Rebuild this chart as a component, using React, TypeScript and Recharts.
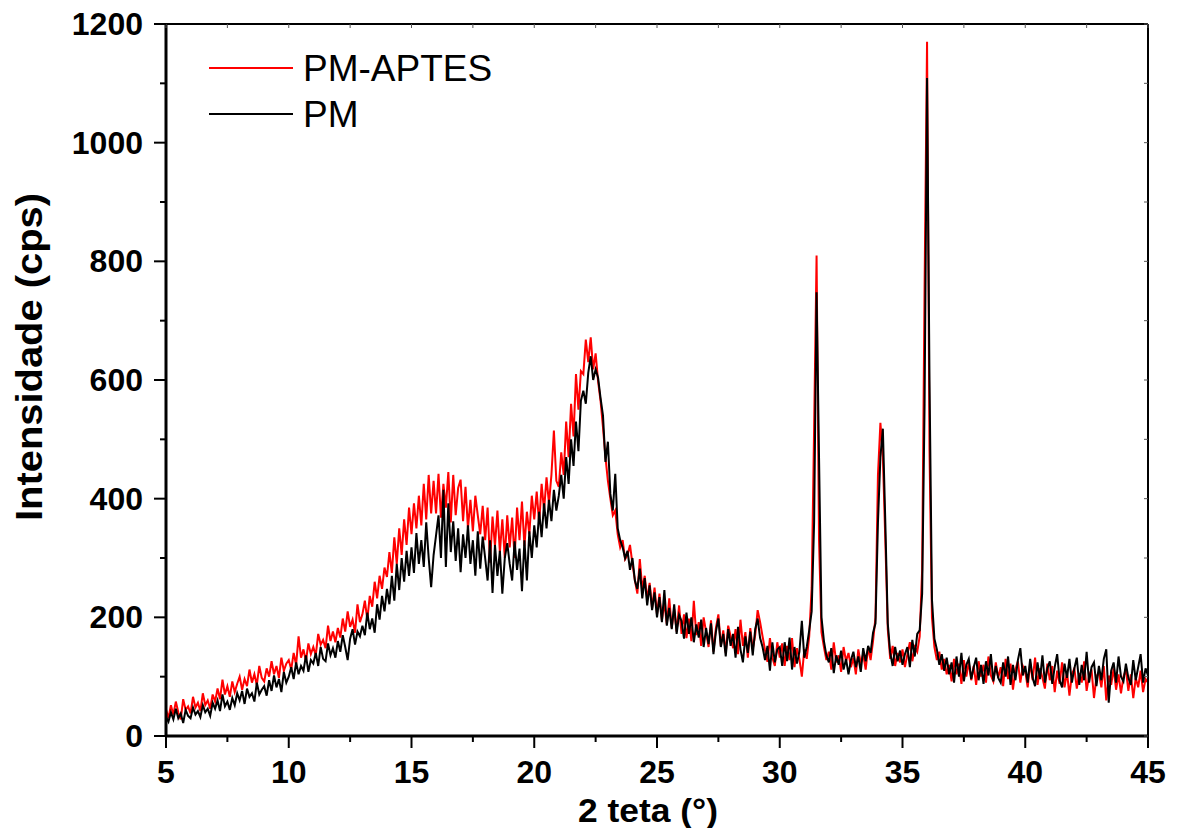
import React from 'react';
import { LineChart, Line, XAxis, YAxis, Customized } from 'recharts';

// 2θ sampling grid
const THETA_START = 5;
const THETA_STEP = 0.1;

// PM-APTES intensity (cps), one row per degree (x.0 … x.9)
const pmAptes = [
  45, 30, 52, 36, 58, 40, 28, 62, 44, 50,
  38, 66, 48, 56, 42, 72, 52, 60, 46, 70,
  58, 80, 62, 95, 70, 84, 66, 92, 74, 88,
  100, 78, 96, 84, 112, 90, 104, 86, 118, 98,
  92, 114, 100, 126, 104, 118, 98, 132, 110, 122,
  128, 112, 140, 120, 168, 132, 146, 126, 156, 138,
  150, 136, 172, 154, 162, 148, 186, 160, 176, 158,
  182, 166, 198, 176, 210, 184, 196, 174, 222, 192,
  205, 228, 196, 236, 218, 260, 232, 270, 248, 284,
  268, 310, 275, 335, 290, 350, 305, 365, 322, 385,
  340, 392, 350, 405, 355, 425, 365, 440, 375, 430,
  375, 442, 368, 425, 385, 445, 360, 440, 372, 418,
  432, 362, 420, 350, 398, 345, 405, 372, 340, 388,
  330, 385, 292, 370, 320, 380, 310, 365, 300, 372,
  318, 368, 300, 385, 330, 395, 320, 378, 340, 405,
  365, 412, 358, 425, 380, 436, 392, 440, 515, 430,
  420, 478, 440, 530, 470, 560, 505, 610, 550, 615,
  610, 668, 630, 672, 618, 645, 598, 565, 520, 470,
  430, 400, 372, 380, 340, 318, 330, 298, 305, 322,
  290, 262, 240, 298, 248, 270, 230, 258, 215, 250,
  205, 240, 195, 225, 188, 232, 182, 214, 176, 220,
  172, 205, 165, 198, 160, 228, 170, 192, 152, 200,
  175, 150, 195, 142, 182, 205, 152, 178, 140, 186,
  168, 148, 180, 138, 196, 152, 175, 132, 182, 146,
  170, 212, 192, 168, 145, 125, 165, 132, 118, 158,
  132, 156, 118, 152, 128, 165, 116, 148, 130, 100,
  146, 130, 168, 250, 520, 810, 330, 175, 150, 128,
  142, 112, 158, 124, 136, 108, 150, 126, 140, 116,
  132, 104, 146, 122, 138, 112, 150, 128, 160, 200,
  440, 528, 470, 330, 180, 130, 152, 118, 140, 124,
  146, 116, 138, 158, 126, 150, 142, 168, 280, 760,
  1170, 480, 200, 150, 128, 142, 112, 130, 104, 120,
  92, 130, 104, 122, 88, 128, 100, 124, 94, 118,
  86, 126, 100, 120, 90, 134, 102, 92, 124, 98,
  116, 84, 130, 96, 122, 78, 112, 126, 90, 118,
  108, 82, 124, 94, 132, 86, 114, 98, 80, 122,
  94, 118, 74, 110, 88, 124, 82, 108, 68, 104,
  114, 80, 106, 90, 126, 76, 102, 112, 64, 100,
  108, 82, 118, 60, 102, 86, 114, 78, 104, 72,
  100, 112, 76, 104, 64, 98, 82, 110, 74, 96,
  90,
];

// PM intensity (cps), one row per degree
const pm = [
  32, 24, 40, 28, 46, 30, 38, 22, 44, 34,
  30, 48, 36, 42, 32, 52, 40, 46, 34, 56,
  46, 60, 42, 70, 50, 58, 44, 64, 52, 72,
  60, 76, 54, 80, 66, 72, 58, 90, 70, 78,
  84, 68, 94, 76, 102, 82, 96, 74, 108, 90,
  100, 116, 96, 124, 104, 118, 110, 136, 108, 128,
  122, 140, 118, 150, 130, 126, 156, 136, 148, 132,
  160, 142, 170, 150, 128, 164, 180, 154, 176, 168,
  186, 170, 208, 180, 198, 174, 222, 196, 236, 210,
  248, 222, 270, 228, 290, 246, 300, 260, 312, 270,
  318, 275, 342, 290, 330, 285, 360, 300, 251, 305,
  338, 372, 300, 415, 285, 392, 310, 362, 295, 350,
  276, 340, 300, 355, 290, 330, 270, 345, 282, 336,
  300, 262, 330, 241, 322, 270, 312, 240, 300, 325,
  290, 262, 328, 280, 316, 244, 330, 262, 345, 300,
  355, 318, 378, 335, 392, 350, 398, 362, 415, 380,
  405, 440, 400, 470, 425, 500, 455, 530, 480, 565,
  582, 560, 612, 640, 600, 618, 604, 570, 540, 462,
  496, 408, 380, 442, 350, 330, 318, 300, 312, 280,
  300, 262, 248, 282, 232, 266, 220, 254, 212, 242,
  200, 234, 192, 246, 186, 216, 180, 222, 172, 204,
  194, 164, 208, 172, 200, 158, 188, 166, 196, 150,
  182, 155, 190, 138, 176, 198, 150, 172, 134, 180,
  152, 172, 132, 184, 146, 124, 168, 140, 176, 136,
  180, 198, 165, 150, 128, 152, 110, 158, 124, 146,
  150, 118, 158, 126, 166, 112, 150, 122, 142, 194,
  132, 150, 178, 210, 360, 748, 470, 200, 160, 136,
  124, 148, 106, 136, 120, 144, 112, 130, 104, 128,
  142, 116, 134, 108, 148, 126, 152, 140, 174, 190,
  360, 470, 518, 360, 190, 140, 118, 150, 126, 144,
  120, 138, 150, 116, 162, 134, 172, 178, 240, 560,
  1109, 600, 230, 164, 146, 120, 138, 110, 132, 104,
  124, 90, 134, 100, 140, 92, 120, 130, 96, 116,
  132, 94, 120, 88, 126, 102, 138, 92, 118, 98,
  90, 124, 100, 134, 86, 120, 94, 128, 148, 102,
  118, 90, 130, 98, 84, 124, 96, 136, 90, 114,
  126, 88, 116, 138, 94, 82, 122, 98, 130, 90,
  114, 132, 86, 120, 94, 142, 90, 116, 124, 84,
  118, 94, 130, 146, 56, 110, 124, 90, 134, 100,
  92, 122, 98, 86, 128, 94, 116, 138, 90, 114,
  102,
];

const xMajorTicks = [5, 10, 15, 20, 25, 30, 35, 40, 45];
const xMinorTicks = [7.5, 12.5, 17.5, 22.5, 27.5, 32.5, 37.5, 42.5];
const yMajorTicks = [0, 200, 400, 600, 800, 1000, 1200];
const yMinorTicks = [100, 300, 500, 700, 900, 1100];

const seriesNames = { red: 'PM-APTES', black: 'PM' };
const xTitle = '2 teta (°)';
const yTitle = 'Intensidade (cps)';

const data = pmAptes.map((v, i) => ({
  theta: Math.round((THETA_START + i * THETA_STEP) * 10) / 10,
  red: v,
  black: pm[i],
}));

const allXTicks = [...xMajorTicks, ...xMinorTicks].sort((a, b) => a - b);
const allYTicks = [...yMajorTicks, ...yMinorTicks].sort((a, b) => a - b);

const FONT = '"Liberation Sans", Arial, Helvetica, sans-serif';

const BottomTick = (props: any) => {
  const { x, y, payload } = props;
  const major = xMajorTicks.includes(payload.value);
  return (
    <g>
      <line x1={x} y1={y} x2={x} y2={y + (major ? 12 : 6)} stroke="#000" strokeWidth={2} />
      {major && (
        <text x={x} y={y + 47} textAnchor="middle" fontSize={32} fontWeight="bold" fontFamily={FONT} fill="#000">
          {payload.value}
        </text>
      )}
    </g>
  );
};

const LeftTick = (props: any) => {
  const { x, y, payload } = props;
  const major = yMajorTicks.includes(payload.value);
  return (
    <g>
      <line x1={x} y1={y} x2={x - (major ? 12 : 6)} y2={y} stroke="#000" strokeWidth={2} />
      {major && (
        <text x={x - 23} y={y + 11} textAnchor="end" fontSize={32} fontWeight="bold" fontFamily={FONT} fill="#000">
          {payload.value}
        </text>
      )}
    </g>
  );
};

const TopTick = (props: any) => {
  const { x, y } = props;
  return <line x1={x} y1={y} x2={x} y2={y + 4} stroke="#555" strokeWidth={1} />;
};

const RightTick = (props: any) => {
  const { x, y } = props;
  return <line x1={x} y1={y} x2={x - 4} y2={y} stroke="#555" strokeWidth={1} />;
};

const Overlay = () => (
  <g fontFamily={FONT}>
    <line x1={209} y1={68} x2={293} y2={68} stroke="#ff0000" strokeWidth={2} />
    <text x={303} y={81} fontSize={37} fill="#000">{seriesNames.red}</text>
    <line x1={209} y1={114} x2={293} y2={114} stroke="#000" strokeWidth={2} />
    <text x={303} y={127} fontSize={37} fill="#000">{seriesNames.black}</text>
    <text x={648} y={822} textAnchor="middle" fontSize={34} fontWeight="bold" fill="#000"
      textLength={140} lengthAdjust="spacingAndGlyphs">{xTitle}</text>
    <text x={42} y={357} textAnchor="middle" fontSize={36} fontWeight="bold" fill="#000"
      transform="rotate(-90 42 357)" textLength={328} lengthAdjust="spacingAndGlyphs">{yTitle}</text>
  </g>
);

export default function App() {
  return (
    <div style={{ position: 'absolute', left: 0, top: 0, width: 1178, height: 828, background: '#fff' }}>
      <LineChart
        width={1178}
        height={828}
        data={data}
        margin={{ top: 23, right: 29, bottom: 0, left: 0 }}
      >
        <XAxis
          xAxisId="bottom"
          dataKey="theta"
          type="number"
          domain={[5, 45]}
          allowDataOverflow
          ticks={allXTicks}
          interval={0}
          height={92}
          tickSize={0}
          tickMargin={0}
          tickLine={false}
          tick={BottomTick}
          axisLine={{ stroke: '#000', strokeWidth: 3 }}
        />
        <XAxis
          xAxisId="top"
          orientation="top"
          dataKey="theta"
          type="number"
          domain={[5, 45]}
          allowDataOverflow
          ticks={allXTicks}
          interval={0}
          height={1}
          tickSize={0}
          tickMargin={0}
          tickLine={false}
          tick={TopTick}
          axisLine={{ stroke: '#000', strokeWidth: 2 }}
        />
        <YAxis
          yAxisId="left"
          type="number"
          domain={[0, 1200]}
          allowDataOverflow
          ticks={allYTicks}
          interval={0}
          width={166}
          tickSize={0}
          tickMargin={0}
          tickLine={false}
          tick={LeftTick}
          axisLine={{ stroke: '#000', strokeWidth: 3 }}
        />
        <YAxis
          yAxisId="right"
          orientation="right"
          type="number"
          domain={[0, 1200]}
          allowDataOverflow
          ticks={allYTicks}
          interval={0}
          width={1}
          tickSize={0}
          tickMargin={0}
          tickLine={false}
          tick={RightTick}
          axisLine={{ stroke: '#000', strokeWidth: 2 }}
        />
        <Line
          xAxisId="bottom"
          yAxisId="left"
          type="linear"
          dataKey="red"
          name={seriesNames.red}
          stroke="#ff0000"
          strokeWidth={2}
          dot={false}
          activeDot={false}
          isAnimationActive={false}
        />
        <Line
          xAxisId="bottom"
          yAxisId="left"
          type="linear"
          dataKey="black"
          name={seriesNames.black}
          stroke="#000000"
          strokeWidth={2}
          dot={false}
          activeDot={false}
          isAnimationActive={false}
        />
        <Customized component={Overlay} />
      </LineChart>
    </div>
  );
}
